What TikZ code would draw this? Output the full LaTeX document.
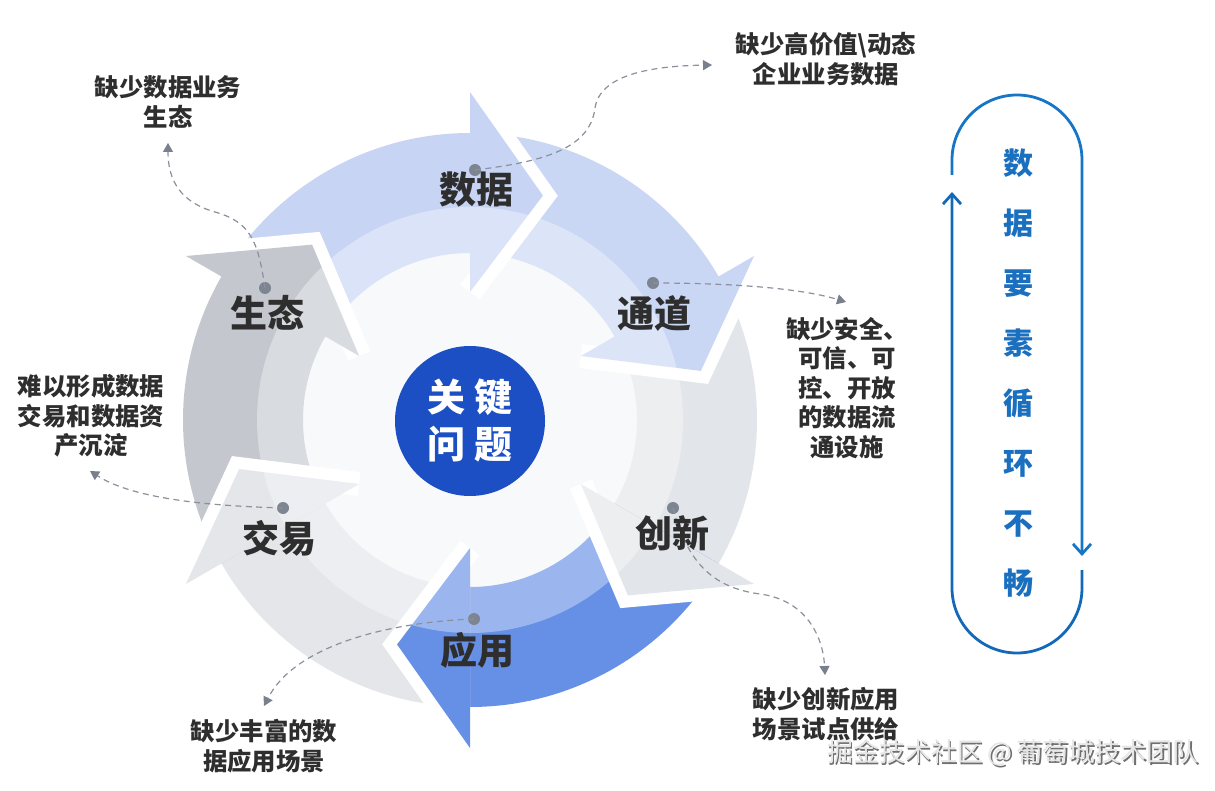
\documentclass[tikz,border=0pt]{standalone}
\usepackage{fontspec}
\setmainfont{Noto Sans CJK SC}
\usetikzlibrary{arrows.meta}
\definecolor{cData}{HTML}{C7D4F3}
\definecolor{cChan}{HTML}{CAD7F4}
\definecolor{cInno}{HTML}{E2E5E9}
\definecolor{cApp}{HTML}{6690E6}
\definecolor{cTrade}{HTML}{E4E6EA}
\definecolor{cEco}{HTML}{C4C8CE}
\definecolor{centerbg}{HTML}{F5F6F8}
\definecolor{keyblue}{HTML}{1D4FC4}
\definecolor{dotc}{HTML}{7D8592}
\definecolor{dashc}{HTML}{8B919C}
\definecolor{tipc}{HTML}{7A7F8E}
\definecolor{txt}{HTML}{2E2E2E}
\definecolor{vblue}{HTML}{1A6FBF}
\definecolor{sblueA}{HTML}{1675C6}
\definecolor{sblueB}{HTML}{1468B8}
\definecolor{wmface}{HTML}{E6E6E6}
\definecolor{wmshadow}{HTML}{6F6F6F}
\begin{document}
\begin{tikzpicture}[x=0.5pt,y=-0.5pt,
  lab/.style={font=\bfseries\fontsize{18.5}{20}\selectfont, text=txt, inner sep=0},
  ann/.style={font=\bfseries\fontsize{12.2}{14.75}\selectfont, text=txt, align=center, inner sep=0},
  dotn/.style={circle, fill=dotc, minimum size=6pt, inner sep=0},
  dashline/.style={draw=dashc, line width=0.6pt, dash pattern=on 3pt off 2.2pt,
    -{Triangle[width=5pt,length=4.5pt,color=tipc]}},
  stad/.style={line width=1.4pt, -{Straight Barb[length=5pt,width=9pt]}},
  wmtext/.style={font=\fontsize{13}{13}\selectfont, inner sep=0}]
\useasboundingbox (0,0) rectangle (1215,791);
\fill[white] (0,0) rectangle (1215,791);

% ---------- wheel ----------
\begin{scope}[shift={(470,420)}, yscale=-1]
  \fill[centerbg] (0,0) circle[radius=167];
  \foreach \a/\b/\c in {150/90/cData, 90/30/cChan, 30/-30/cInno, -30/-90/cApp, -90/-150/cTrade, -150/-210/cEco} {
    \pgfmathsetmacro\e{\b-1}
    \fill[\c] (\a:287) arc[start angle=\a, end angle=\e, radius=287]
      -- (\e:167) arc[start angle=\e, end angle=\a, radius=167] -- cycle;
  }
  \foreach \b/\c in {90/cData, 30/cChan, -30/cInno, -90/cApp, -150/cTrade, 150/cEco} {
    \pgfmathsetmacro\t{\b-18}
    \draw[white, line width=12pt, line join=miter] (\b:328) -- (\t:236) -- (\b:128);
    \fill[\c] (\b:328) -- (\t:236) -- (\b:128) -- cycle;
  }
  \fill[white, opacity=0.35] (0,0) circle[radius=213];
\end{scope}

\node[circle, fill=keyblue, minimum size=75pt, inner sep=0, text=white, align=center,
  font=\bfseries\fontsize{19}{23.5}\selectfont] (key) at (470,421) {关\hspace{4.5pt}键\\问\hspace{4.5pt}题};

% ---------- dots and connectors ----------
\node[dotn] (d1) at (475,170) {};
\node[dotn] (d2) at (653,283) {};
\node[dotn] (d3) at (673,508) {};
\node[dotn] (d4) at (474,619) {};
\node[dotn] (d5) at (283,508) {};
\node[dotn] (d6) at (265,288) {};
\coordinate (t1) at (712,65);
\coordinate (t2) at (846,302);
\coordinate (t3) at (825,675);
\coordinate (t4) at (264,706);
\coordinate (t5) at (90,471);
\coordinate (t6) at (168,143);

\draw[dashline] (d1.center) .. controls (540,162) and (590,150) .. (595,108)
  .. controls (600,75) and (650,66) .. (t1);
\draw[dashline] (d2.center) .. controls (730,283) and (800,288) .. (t2);
\draw[dashline] (d3.center) .. controls (688,565) and (715,588) .. (760,594)
  .. controls (805,600) and (823,635) .. (t3);
\draw[dashline] (d4.center) .. controls (390,622) and (295,645) .. (t4);
\draw[dashline] (d5.center) .. controls (215,506) and (135,500) .. (t5);
\draw[dashline] (d6.center) .. controls (258,240) and (250,222) .. (215,212)
  .. controls (180,202) and (168,180) .. (t6);

% ---------- labels ----------
\node[lab] (l1) at (476,190) {数据};
\node[lab] (l2) at (654,313) {通道};
\node[lab] (l3) at (672,533) {创新};
\node[lab] (l4) at (477,650) {应用};
\node[lab] (l5) at (279,538) {交易};
\node[lab] (l6) at (267,313) {生态};

% ---------- annotations ----------
\node[ann] (a1) at (826,59) {缺少高价值\textbackslash 动态\\企业业务数据};
\node[ann] (a2) at (847,388) {缺少安全、\\可信、可\\控、开放\\的数据流\\通设施};
\node[ann] (a3) at (826,714) {缺少创新应用\\场景试点供给};
\node[ann] (a4) at (264,746) {缺少丰富的数\\据应用场景};
\node[ann] (a5) at (91,416) {难以形成数据\\交易和数据资\\产沉淀};
\node[ann] (a6) at (168,102) {缺少数据业务\\生态};

% ---------- right loop ----------
\draw[stad, sblueA] (952,175) -- (952,160) arc[start angle=180, end angle=360, radius=65] -- (1082,556);
\draw[stad, sblueB] (1082,570) -- (1082,588) arc[start angle=0, end angle=180, radius=65] -- (952,192);
\node[font=\bfseries\fontsize{15}{30}\selectfont, text=vblue, align=center, inner sep=0] (vt)
  at (1018,373) {数\\据\\要\\素\\循\\环\\不\\畅};

% ---------- watermark ----------
\node[wmtext, text=wmshadow] (wms) at (1014.5,754.5) {掘金技术社区\,@\,葡萄城技术团队};
\node[wmtext, text=wmface] (wm) at (1013,753) {掘金技术社区\,@\,葡萄城技术团队};
\end{tikzpicture}
\end{document}
